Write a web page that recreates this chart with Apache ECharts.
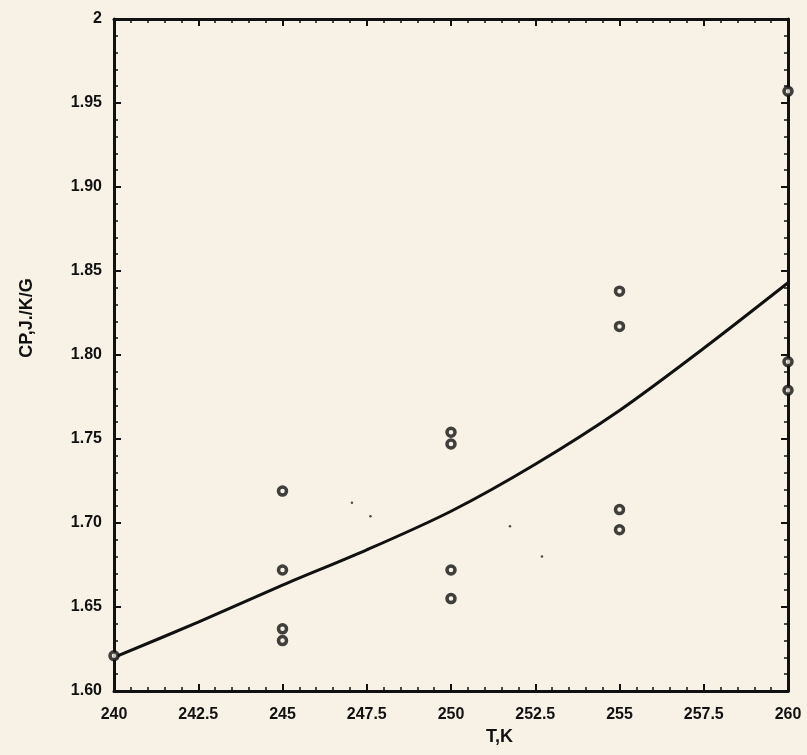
<!DOCTYPE html>
<html>
<head>
<meta charset="utf-8">
<script src="https://cdn.jsdelivr.net/npm/echarts@6/dist/echarts.min.js"></script>
<style>
html,body{margin:0;padding:0;background:#f8f2e6;}
#chart{width:807px;height:755px;}
</style>
</head>
<body>
<div id="chart"></div>
<script>
// Measured data points (T in K, Cp in J/K/g)
const pointT  = [240, 245, 245, 245, 245, 250, 250, 250, 250, 255, 255, 255, 255, 260, 260, 260];
const pointCp = [1.621, 1.719, 1.672, 1.637, 1.630, 1.754, 1.747, 1.672, 1.655, 1.838, 1.817, 1.708, 1.696, 1.957, 1.796, 1.779];
// Fitted curve
const curveT  = [240, 242.5, 245, 247.5, 250, 252.5, 255, 257.5, 260];
const curveCp = [1.620, 1.641, 1.663, 1.684, 1.707, 1.735, 1.767, 1.804, 1.843];
// Scan specks
const speckT  = [247.06, 247.61, 251.75, 252.70];
const speckCp = [1.712, 1.704, 1.698, 1.680];
// Axis labels
const xTitle = 'T,K';
const yTitle = 'CP,J./K/G';

const chart = echarts.init(document.getElementById('chart'), null, {renderer:'canvas'});
const font = 'Liberation Sans';
const axisLine = {show:true, onZero:false, lineStyle:{color:'#111', width:3}};
const xCommon = {
  type:'value', min:240, max:260, interval:2.5,
  axisLine: axisLine,
  axisTick:{show:true, inside:true, length:7, lineStyle:{color:'#111', width:2}},
  minorTick:{show:true, splitNumber:5, length:4, lineStyle:{color:'#111', width:1.5}},
  splitLine:{show:false}, minorSplitLine:{show:false}
};
const yCommon = {
  type:'value', min:1.6, max:2.0, interval:0.05,
  axisLine: axisLine,
  axisTick:{show:true, inside:true, length:7, lineStyle:{color:'#111', width:2}},
  minorTick:{show:true, splitNumber:5, length:4, lineStyle:{color:'#111', width:1.5}},
  splitLine:{show:false}, minorSplitLine:{show:false}
};
const option = {
  backgroundColor:'#f8f2e6',
  animation:false,
  grid:{left:114, right:19, top:19, bottom:64, containLabel:false},
  xAxis:[
    Object.assign({}, xCommon, {position:'bottom',
      axisLabel:{show:true, margin:16, color:'#111', fontFamily:font, fontWeight:'bold', fontSize:16,
        formatter: v => String(v)}}),
    Object.assign({}, xCommon, {position:'top', axisLabel:{show:false}})
  ],
  yAxis:[
    Object.assign({}, yCommon, {position:'left',
      axisLabel:{show:true, margin:12, color:'#111', fontFamily:font, fontWeight:'bold', fontSize:16,
        formatter: v => (Math.abs(v-2) < 1e-9 ? '2' : v.toFixed(2))}}),
    Object.assign({}, yCommon, {position:'right', axisLabel:{show:false}})
  ],
  graphic:[
    {type:'text', left:486, top:728, style:{text:xTitle, fill:'#111', font:'bold 18px "Liberation Sans"'}},
    {type:'text', x:27, y:318, rotation:Math.PI/2,
      style:{text:yTitle, fill:'#111', font:'bold 18px "Liberation Sans"', align:'center', verticalAlign:'middle'}}
  ],
  series:[
    {type:'line', xAxisIndex:0, yAxisIndex:0, data: curveT.map((t,i)=>[t, curveCp[i]]),
      smooth:0.3, showSymbol:false, lineStyle:{color:'#111', width:3}, z:2},
    {type:'scatter', xAxisIndex:0, yAxisIndex:0, data: pointT.map((t,i)=>[t, pointCp[i]]),
      symbol:'circle', symbolSize:8, clip:false,
      itemStyle:{color:'#f8f2e6', borderColor:'#111', borderWidth:3.5}, z:5},
    {type:'scatter', xAxisIndex:0, yAxisIndex:0, data: speckT.map((t,i)=>[t, speckCp[i]]),
      symbol:'circle', symbolSize:2.5, itemStyle:{color:'#222'}, z:3}
  ]
};
chart.setOption(option);
</script>
</body>
</html>
